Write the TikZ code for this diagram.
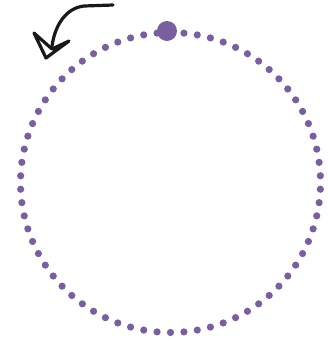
\documentclass[tikz,border=0pt]{standalone}
\definecolor{dotpurple}{RGB}{121,94,160}
\begin{document}
\begin{tikzpicture}[x=1pt,y=-1pt,
  smalldot/.style={fill=dotpurple},
  sketch/.style={draw=black!90,line width=3.2pt,line cap=round,line join=round}]
\useasboundingbox (0,0) rectangle (328,341);
\coordinate (c) at (170.5,182.5);
\foreach \i in {0,...,69}{
  \pgfmathsetmacro{\ang}{270+\i*36/7}
  \fill[smalldot] (c) ++(\ang:150) circle (3.6);
}
\node[circle,fill=dotpurple,minimum size=20pt,inner sep=0pt] (top) at (167,31) {};
\coordinate (s) at (113,5);
\coordinate (e) at (52,46);
\draw[sketch] (s) -- (84,6) .. controls (66,8) and (55,25) .. (e);
\draw[sketch] (34,33) -- (46,58) -- (69,41) -- (52,49) -- cycle;
\end{tikzpicture}
\end{document}
